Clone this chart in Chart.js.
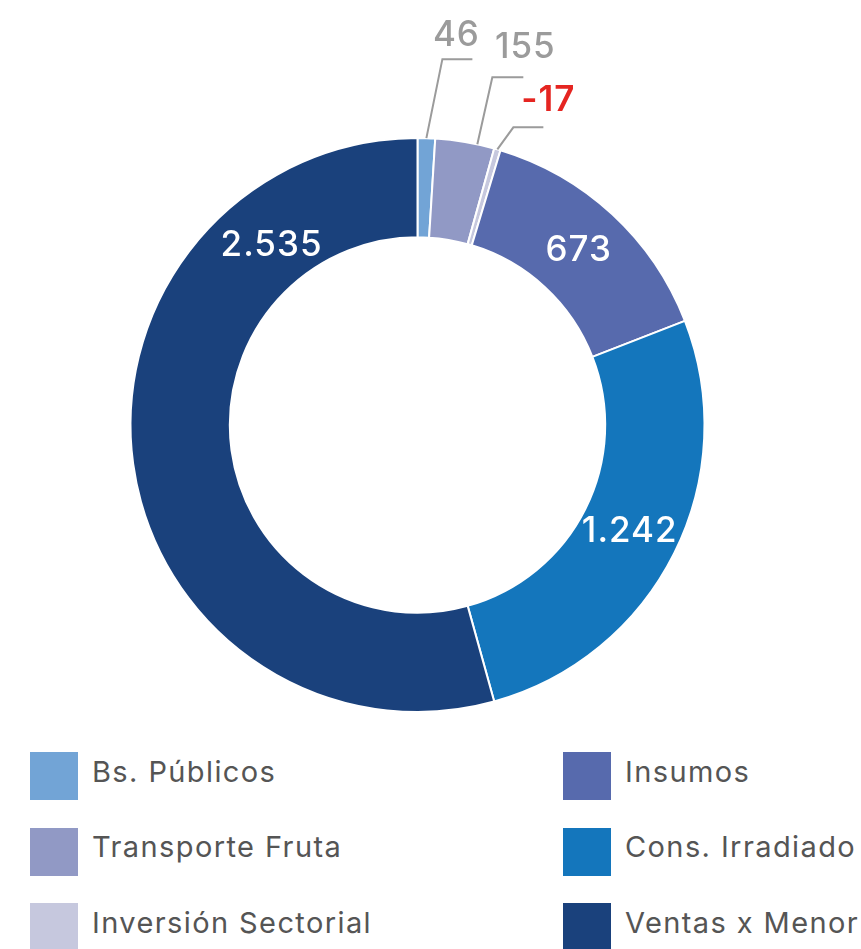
<!doctype html>
<html lang="es">
<head>
	<meta charset="utf-8">
	<title>Distribución por programa</title>
	<style>
		* {
			margin: 0;
			padding: 0;
		}

		body {
			background: #fff;
			width: 861px;
			height: 949px;
			overflow: hidden;
			position: relative;
			font-family: Inter, "Noto Sans", sans-serif;
		}

		.chartBox {
			position: absolute;
			left: 0;
			top: 0;
			width: 861px;
			height: 720px;
		}

		/* leyenda en dos columnas */
		.legend {
			position: absolute;
			left: 0;
			top: 752px;
			width: 861px;
		}

		.legend .item {
			position: absolute;
			display: flex;
			align-items: center;
			height: 48px;
			font-size: 29px;
			letter-spacing: 1.4px;
			color: #555;
			white-space: nowrap;
		}

		.legend .box {
			width: 48px;
			height: 48px;
			margin-right: 14px;
		}

		.legend .name {
			position: relative;
			top: -5px;
		}
	</style>
</head>

<body>
	<div class="chartBox">
		<canvas id="myChart" width="861" height="720"></canvas>
	</div>
	<div class="legend" id="legend"></div>

	<script src="https://cdn.jsdelivr.net/npm/chart.js"></script>
	<script>
		/*===== Datos =====*/
		const labels = ['Bs. Públicos', 'Transporte Fruta', 'Inversión Sectorial', 'Insumos', 'Cons. Irradiado', 'Ventas x Menor'];
		const values = [46, 155, -17, 673, 1242, 2535];
		const colors = ['#72a4d6', '#9199c5', '#c6c8de', '#576aad', '#1476bc', '#1a417c'];

		// 2535 -> "2.535"
		function fmt(v) {
			return String(v).replace(/\B(?=(\d{3})+(?!\d))/g, '.');
		}

		/*===== Etiquetas de valor sobre cada sector =====*/
		const sliceLabels = {
			id: 'sliceLabels',
			afterDatasetsDraw(chart, args, opts) {
				const {ctx} = chart;
				const meta = chart.getDatasetMeta(0);
				const data = chart.data.datasets[0].data;
				meta.data.forEach((arc, i) => {
					const p = arc.getProps(['x', 'y', 'startAngle', 'endAngle', 'innerRadius', 'outerRadius']);
					const place = opts.placement[i] || {frac: 0.5};
					const a = p.startAngle + place.frac * (p.endAngle - p.startAngle);
					const v = data[i];
					ctx.save();
					ctx.textAlign = 'center';
					ctx.textBaseline = 'middle';
					ctx.letterSpacing = '1px';
					if (place.leader) {
						// sector pequeño: línea guía hacia afuera
						const [dx, dy, run, tdx, tdy] = place.leader;
						const sx = p.x + Math.cos(a) * p.outerRadius;
						const sy = p.y + Math.sin(a) * p.outerRadius;
						ctx.strokeStyle = '#9b9b9b';
						ctx.lineWidth = 2;
						ctx.beginPath();
						ctx.moveTo(sx, sy);
						ctx.lineTo(sx + dx, sy + dy);
						ctx.lineTo(sx + dx + run, sy + dy);
						ctx.stroke();
						ctx.font = (v < 0 ? '600' : '500') + ' 35px Inter, "Noto Sans", sans-serif';
						ctx.fillStyle = v < 0 ? '#e52521' : '#9b9b9b';
						ctx.fillText(fmt(v), sx + dx + run + tdx, sy + dy + tdy);
					} else {
						const r = (p.innerRadius + p.outerRadius) / 2 - (place.inset || 0);
						ctx.font = '500 35px Inter, "Noto Sans", sans-serif';
						ctx.fillStyle = '#fff';
						ctx.fillText(fmt(v), p.x + Math.cos(a) * r, p.y + Math.sin(a) * r);
					}
					ctx.restore();
				});
			}
		};

		const config = {
			type: 'doughnut',
			data: {
				labels,
				datasets: [{
					data: values,
					backgroundColor: colors,
					borderColor: '#fff',
					borderWidth: 2
				}]
			},
			options: {
				responsive: false,
				animation: false,
				radius: 287,
				cutout: '65.4%',
				layout: {
					padding: {top: 130, right: 26, bottom: 0, left: 0}
				},
				plugins: {
					legend: {display: false},
					tooltip: {enabled: false},
					sliceLabels: {
						placement: [
							{frac: 0.5, leader: [16, -79, 30, -16, -24]},
							{frac: 0.71, leader: [15, -67, 31, 2, -30]},
							{frac: 0.5, leader: [16, -22, 30, 5, -27]},
							{frac: 0.5},
							{frac: 0.5},
							{frac: 0.8, inset: 6}
						]
					}
				}
			},
			plugins: [sliceLabels]
		};

		const myChart = new Chart(document.getElementById('myChart'), config);

		/*===== Leyenda: columna izquierda los tres primeros, derecha el resto =====*/
		const legendEl = document.getElementById('legend');
		labels.forEach((name, i) => {
			const col = i < 3 ? 0 : 1;
			const row = i % 3;
			const item = document.createElement('div');
			item.className = 'item';
			item.style.left = (col ? 563 : 30) + 'px';
			item.style.top = (row * 75.5) + 'px';
			item.innerHTML = '<span class="box" style="background:' + colors[i] + '"></span><span class="name">' + name + '</span>';
			legendEl.appendChild(item);
		});
	</script>
</body>
</html>
